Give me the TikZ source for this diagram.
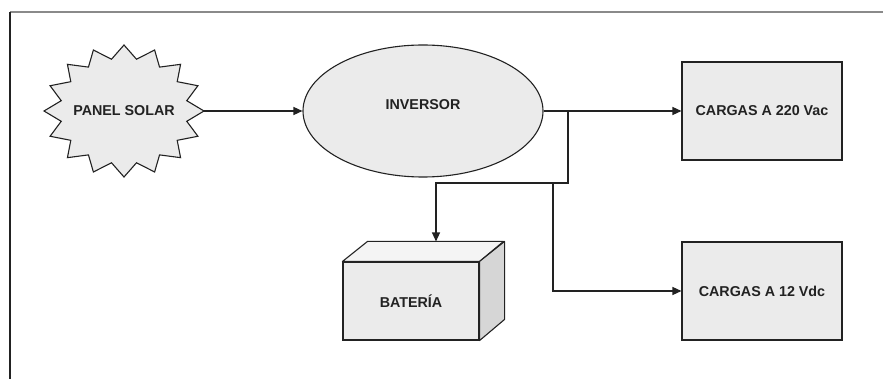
\documentclass[tikz,border=0pt]{standalone}
\usepackage{fontspec}
\setmainfont{Liberation Sans}
\usetikzlibrary{shapes.geometric,arrows.meta,calc}
\definecolor{shapefill}{HTML}{EBEBEB}
\definecolor{topfill}{HTML}{F4F4F4}
\definecolor{sidefill}{HTML}{D6D6D6}
\definecolor{ink}{HTML}{222222}
\definecolor{framegray}{HTML}{8A8A8A}
\tikzset{
  lbl/.style={font=\fontsize{14.3}{17}\selectfont\bfseries, text=ink},
  shp/.style={draw=ink, fill=shapefill, line width=1.1pt},
  boxnode/.style={shp, rectangle, minimum width=160pt, minimum height=98pt, inner sep=0pt, lbl},
  conn/.style={draw=ink, line width=1.3pt},
  arr/.style={conn, -{Triangle[length=9pt,width=8pt]}},
}
\begin{document}
\begin{tikzpicture}[x=1pt,y=-1pt]
\useasboundingbox (0,0) rectangle (883,379);
% frame
\draw[framegray, line width=1.3pt] (10,12) -- (883,12);
\draw[ink, line width=1.3pt] (10,12) -- (10,379);
% star
\path[shp] ({124+80},111)
  \foreach \k in {0,...,15} {
    -- ({124+64*cos(\k*22.5+11.25)},{111-52.8*sin(\k*22.5+11.25)})
    -- ({124+80*cos((\k+1)*22.5)},{111-66*sin((\k+1)*22.5)})
  } -- cycle;
\node[lbl] (solar) at (124,111) {PANEL SOLAR};
\coordinate (starE) at (204,111);
% inverter
\node[shp, ellipse, minimum width=240pt, minimum height=132pt, inner sep=0pt] (inv) at (423,111) {};
\node[lbl] (invtxt) at (423,105) {INVERSOR};
% loads
\node[boxnode] (c220) at (762,111) {CARGAS A 220 Vac};
\node[boxnode] (c12) at (762,291) {CARGAS A 12 Vdc};
% battery
\node[shp, rectangle, minimum width=136pt, minimum height=78pt, inner sep=0pt, lbl] (bat) at (411,301) {BATERÍA};
\path[draw=ink, fill=topfill, line width=1.1pt, line join=round] (bat.north west) -- ++(25,-20) -- ++(136,0) -- (bat.north east) -- cycle;
\path[draw=ink, fill=sidefill, line width=1.1pt, line join=round] (bat.north east) -- ++(25,-20) -- ++(0,78) -- (bat.south east) -- cycle;
\coordinate (battop) at ($(bat.north)+(25,-20)$);
% junctions
\coordinate (j1) at (568,111);
\coordinate (j2) at (568,183);
\coordinate (j3) at (436,183);
\coordinate (j4) at (553,183);
% connectors
\draw[arr] (starE) -- (inv.west);
\draw[arr] (inv.east) -- (c220.west);
\draw[arr] (j1) -- (j2) -- (j3) -- (battop);
\draw[arr] (j4) |- (c12.west);
\end{tikzpicture}
\end{document}
